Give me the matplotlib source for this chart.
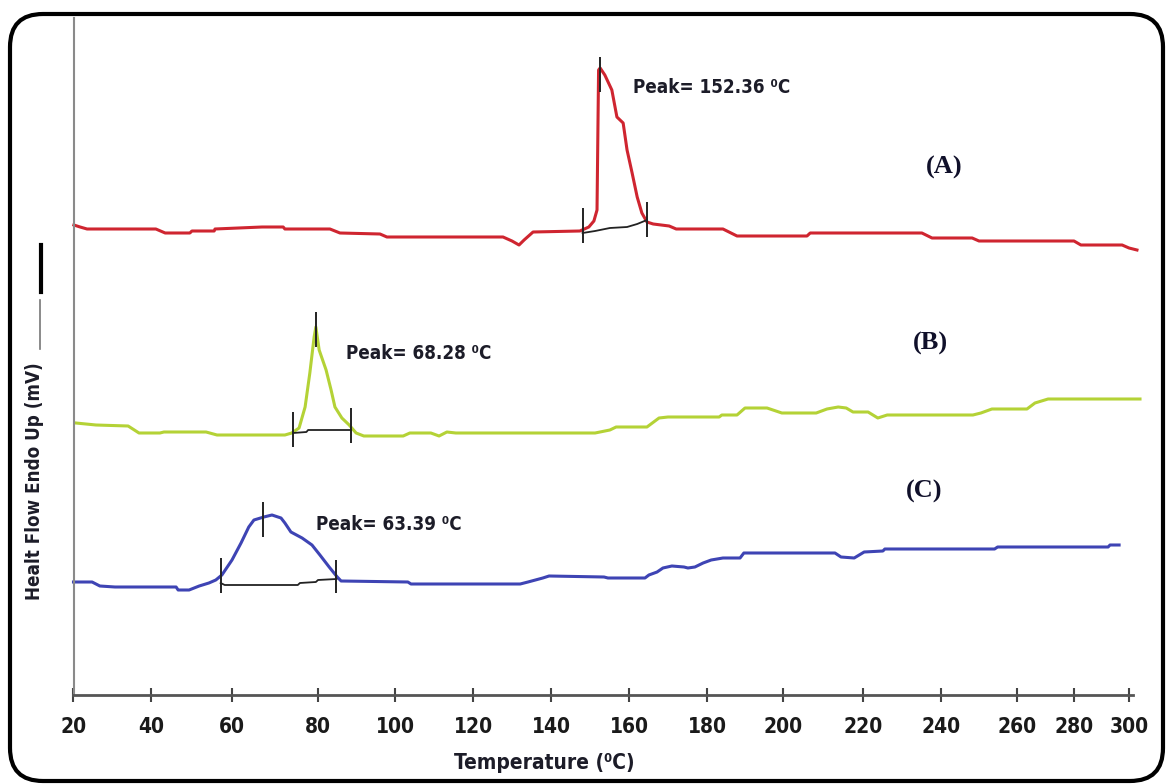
import os
import numpy as np
import matplotlib
matplotlib.use("Agg")
import matplotlib.pyplot as plt
import matplotlib.font_manager as fm
from matplotlib.ft2font import FT2Font
from matplotlib.patches import FancyBboxPatch
from matplotlib.lines import Line2D

# axis ticks (the original axis is not evenly spaced at the right end)
tick_temp = [20, 40, 60, 80, 100, 120, 140, 160, 180, 200, 220, 240, 260, 280, 300]
tick_pos = [73.5, 151, 232, 318, 395, 473, 551, 629, 707, 783, 863, 941, 1017, 1074, 1129]

# (A) red curve: temperature (C), heat flow (mV, arbitrary offset)
a_temp = [20.1, 21.7, 23.5, 41.2, 43.5, 49.6, 50.1, 55.6, 55.8, 67.0, 71.9, 72.3, 83.1, 85.7,
          96.1, 97.9, 127.7, 130.0, 131.8, 133.1, 135.4, 147.4, 149.7, 151.0, 151.8, 152.2,
          152.6, 153.8, 155.6, 156.9, 158.5, 159.5, 160.8, 162.1, 163.3, 164.6, 166.2, 170.3,
          172.1, 184.2, 187.9, 206.0, 206.8, 235.1, 237.7, 248.2, 250.0, 280.0, 282.5, 297.5,
          300.0, 302.9]
a_flow = [4.70, 4.68, 4.66, 4.66, 4.62, 4.62, 4.64, 4.64, 4.66, 4.68, 4.68, 4.66, 4.66, 4.62,
          4.61, 4.58, 4.58, 4.54, 4.50, 4.55, 4.63, 4.64, 4.68, 4.74, 4.85, 6.25,
          6.27, 6.20, 6.05, 5.78, 5.72, 5.45, 5.22, 4.98, 4.82, 4.73, 4.71, 4.69,
          4.66, 4.66, 4.59, 4.59, 4.62, 4.62, 4.57, 4.57, 4.54, 4.54, 4.50, 4.50,
          4.47, 4.45]

# (B) green curve
b_temp = [20.6, 25.8, 34.1, 36.9, 42.2, 43.2, 53.6, 56.3, 72.3, 73.9, 75.6, 77.0, 78.1, 79.1,
          79.5, 80.3, 82.1, 83.4, 84.4, 86.2, 88.1, 89.9, 91.9, 102.1, 103.8, 109.2, 111.3,
          113.3, 115.6, 151.3, 155.1, 156.7, 164.6, 167.7, 170.0, 183.2, 183.9, 187.9, 190.0,
          195.8, 199.7, 208.3, 211.0, 213.8, 215.8, 217.5, 221.3, 223.8, 226.2, 248.4, 250.5,
          253.4, 263.5, 266.3, 270.9, 304.0]
b_flow = [2.72, 2.70, 2.69, 2.62, 2.62, 2.63, 2.63, 2.60, 2.60, 2.62, 2.67, 2.88, 3.22, 3.58,
          3.68, 3.45, 3.25, 3.05, 2.88, 2.77, 2.70, 2.62, 2.59, 2.59, 2.62, 2.62, 2.59,
          2.63, 2.62, 2.62, 2.65, 2.68, 2.68, 2.77, 2.78, 2.78, 2.80, 2.80, 2.87,
          2.87, 2.82, 2.82, 2.86, 2.88, 2.87, 2.83, 2.83, 2.77, 2.80, 2.80, 2.82,
          2.86, 2.86, 2.92, 2.96, 2.96]

# (C) blue curve
c_temp = [20.0, 24.8, 26.8, 30.7, 46.2, 46.7, 49.4, 51.9, 54.3, 56.0, 57.5, 60.0, 62.1, 63.9,
          65.1, 67.4, 69.3, 71.4, 72.3, 73.7, 76.3, 78.6, 80.5, 82.9, 85.0, 86.0, 103.3, 104.1,
          132.1, 134.1, 137.9, 139.5, 153.6, 154.6, 164.1, 165.1, 167.2, 168.7, 171.0, 174.1,
          175.1, 176.9, 179.0, 181.1, 184.2, 188.7, 189.7, 213.0, 214.5, 217.8, 220.3, 225.1,
          225.6, 254.1, 254.9, 292.4, 293.1, 296.4]
c_flow = [1.13, 1.13, 1.09, 1.08, 1.08, 1.05, 1.05, 1.09, 1.12, 1.15, 1.20, 1.35, 1.52, 1.68,
          1.75, 1.78, 1.80, 1.77, 1.72, 1.63, 1.57, 1.50, 1.40, 1.28, 1.18, 1.14, 1.13, 1.11,
          1.11, 1.13, 1.17, 1.19, 1.18, 1.17, 1.17, 1.20, 1.23, 1.27, 1.29, 1.28,
          1.27, 1.28, 1.32, 1.35, 1.37, 1.37, 1.42, 1.42, 1.38, 1.37, 1.43, 1.44,
          1.46, 1.46, 1.48, 1.48, 1.50, 1.50]

# integration baselines and marker ticks (onset, peak, endset)
a_base_t = [148.1, 151.3, 155.1, 159.5, 162.1, 164.6]
a_base_f = [4.62, 4.64, 4.67, 4.68, 4.71, 4.75]
a_marks_t = [148.1, 152.6, 164.6]
a_marks_lo = [4.52, 6.03, 4.58]
a_marks_hi = [4.87, 6.38, 4.93]

b_base_t = [74.2, 77.3, 77.7, 88.6]
b_base_f = [2.62, 2.63, 2.65, 2.65]
b_marks_t = [74.2, 79.5, 88.6]
b_marks_lo = [2.48, 3.48, 2.52]
b_marks_hi = [2.83, 3.83, 2.87]

c_base_t = [57.2, 58.2, 75.3, 75.8, 79.5, 80.0, 84.8]
c_base_f = [1.12, 1.10, 1.10, 1.12, 1.13, 1.15, 1.16]
c_marks_t = [57.2, 67.2, 84.8]
c_marks_lo = [1.02, 1.58, 1.02]
c_marks_hi = [1.37, 1.93, 1.35]

peak_values = ["152.36", "68.28", "63.39"]
sample_labels = ["(A)", "(B)", "(C)"]

W, H = 1167, 784


# look for a narrow bold sans font, the original uses a condensed face
def find_narrow():
    narrow = ("condensed", "semi-condensed", "extra-condensed", "ultra-condensed")
    best, best_score = None, -1
    for f in fm.fontManager.ttflist:
        base = os.path.basename(f.fname)
        if "Serif" in f.name or "Mono" in f.name or "Serif" in base or "Mono" in base:
            continue
        if not ("Narrow" in f.name or "Condensed" in f.name or "Condensed" in base
                or f.stretch in narrow):
            continue
        if f.style != "normal":
            continue
        try:
            w = int(f.weight)
        except (TypeError, ValueError):
            w = 700 if "bold" in str(f.weight).lower() else 400
        if w < 600:
            continue
        score = 1
        if "DejaVu" in f.name or "Liberation" in f.name:
            score = 3
        elif "Noto" in f.name or "Roboto" in f.name:
            score = 2
        if score > best_score:
            best, best_score = f, score
    return best


nf = find_narrow()
if nf is not None:
    cond_path = nf.fname
else:
    cond_path = fm.findfont(fm.FontProperties(family="Roboto", weight="bold"))
deg = "\u2070" if FT2Font(cond_path).get_char_index(0x2070) else "\u00b0"


def cfont(size):
    return fm.FontProperties(fname=cond_path, size=size)


serif = ["Liberation Serif", "DejaVu Serif"]

ext_t = [0] + tick_temp + [320]
ext_p = [73.5 - 77.5] + tick_pos + [1129 + 55]


def fwd(t):
    return np.interp(t, ext_t, ext_p)


def inv(p):
    return np.interp(p, ext_p, ext_t)


fig = plt.figure(figsize=(W / 100, H / 100), dpi=100)
x_right = 301.5
left_px, right_px = fwd(20), fwd(x_right)
ax = fig.add_axes([left_px / W, (H - 695) / H, (right_px - left_px) / W, 677 / H])
ax.set_xscale("function", functions=(fwd, inv))
ax.set_xlim(20, x_right)
ax.set_ylim(0, 6.77)

ax.plot(a_temp, a_flow, color="#cf2530", lw=2.2, clip_on=False)
ax.plot(b_temp, b_flow, color="#b4d236", lw=2.2, clip_on=False)
ax.plot(c_temp, c_flow, color="#3e44b4", lw=2.2, clip_on=False)

for bt, bf, mt, lo, hi in [(a_base_t, a_base_f, a_marks_t, a_marks_lo, a_marks_hi),
                           (b_base_t, b_base_f, b_marks_t, b_marks_lo, b_marks_hi),
                           (c_base_t, c_base_f, c_marks_t, c_marks_lo, c_marks_hi)]:
    ax.plot(bt, bf, color="#222222", lw=1.3)
    ax.vlines(mt, lo, hi, color="#222222", lw=1.4)

# peak labels and sample letters
peak_xy = [(161.0, 6.08), (87.4, 3.42), (79.5, 1.70)]
for (x, y), v in zip(peak_xy, peak_values):
    ax.text(x, y, "Peak= " + v + " " + deg + "C", ha="left", va="center",
            fontproperties=cfont(13.5), color="#1c1c28")
letter_xy = [(240.8, 5.28), (237.2, 3.52), (235.6, 2.04)]
for (x, y), s in zip(letter_xy, sample_labels):
    ax.text(x, y, s, ha="center", va="center", fontsize=19, fontweight="bold",
            family=serif, color="#10102a")

for side in ["top", "right"]:
    ax.spines[side].set_visible(False)
ax.spines["left"].set_color("#8a8a8a")
ax.spines["left"].set_linewidth(1.5)
ax.spines["bottom"].set_color("#555555")
ax.spines["bottom"].set_linewidth(2)
ax.set_yticks([])
ax.set_xticks(tick_temp)
ax.set_xticklabels([str(t) for t in tick_temp])
ax.tick_params(axis="x", direction="inout", length=10, width=1.5, color="#444444",
               pad=11, labelcolor="#1a1a1a")
for lab in ax.get_xticklabels():
    lab.set_fontproperties(cfont(15))

fig.text(544 / W, (H - 763) / H, "Temperature (" + deg + "C)", ha="center", va="center",
         fontproperties=cfont(15), color="#1c1c28")
fig.text(35 / W, (H - 481) / H, "Healt Flow Endo Up (mV)", ha="center", va="center",
         rotation=90, fontproperties=cfont(13.5), color="#1c1c28")
fig.add_artist(Line2D([40 / W, 40 / W], [(H - 349) / H, (H - 300) / H],
                      color="#777777", lw=1.2))
fig.add_artist(Line2D([41 / W, 41 / W], [(H - 292) / H, (H - 245) / H],
                      color="black", lw=3))

# rounded frame around the whole picture
frame = FancyBboxPatch((0.10, 0.03), 11.53, 7.67, boxstyle="round,pad=0,rounding_size=0.33",
                       transform=fig.dpi_scale_trans, fill=False, edgecolor="black", lw=3)
fig.add_artist(frame)

fig.savefig("out.png", dpi=100)
